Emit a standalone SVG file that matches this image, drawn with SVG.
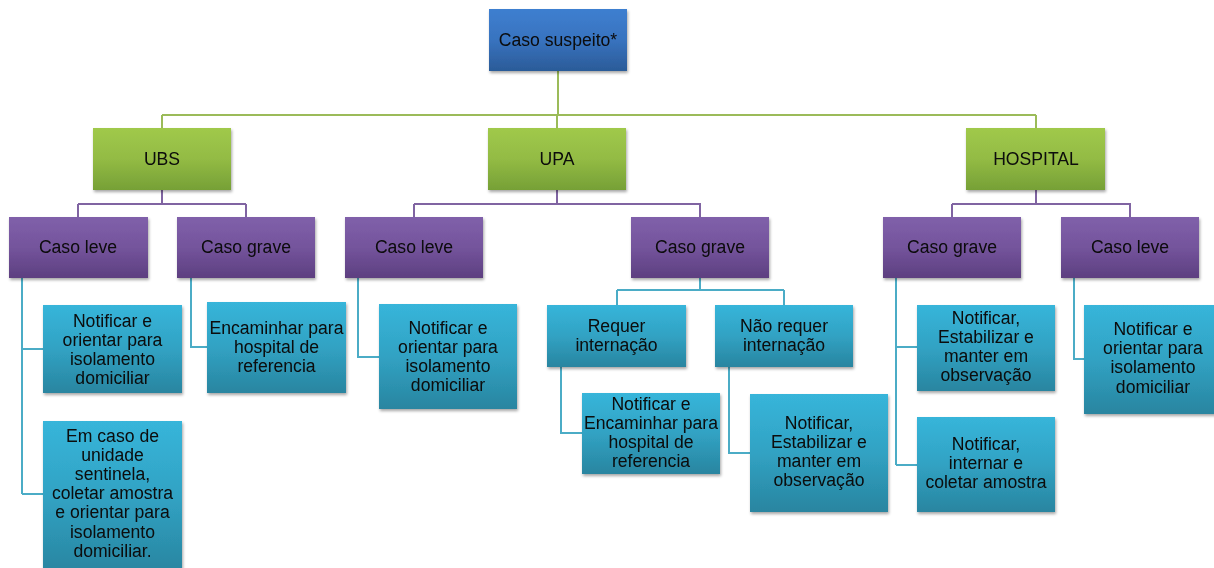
<svg xmlns="http://www.w3.org/2000/svg" width="1214" height="568" viewBox="0 0 1214 568">
<defs>
<linearGradient id="gBlue" x1="0" y1="0" x2="0" y2="1"><stop offset="0" stop-color="#3e7fd0"/><stop offset="0.5" stop-color="#3873bf"/><stop offset="1" stop-color="#2b5b98"/></linearGradient>
<linearGradient id="gGreen" x1="0" y1="0" x2="0" y2="1"><stop offset="0" stop-color="#a0c94b"/><stop offset="0.5" stop-color="#93bb44"/><stop offset="1" stop-color="#76a036"/></linearGradient>
<linearGradient id="gPurple" x1="0" y1="0" x2="0" y2="1"><stop offset="0" stop-color="#8060aa"/><stop offset="0.5" stop-color="#74549c"/><stop offset="1" stop-color="#5d3f80"/></linearGradient>
<linearGradient id="gCyan" x1="0" y1="0" x2="0" y2="1"><stop offset="0" stop-color="#37b5da"/><stop offset="0.5" stop-color="#31a2c3"/><stop offset="1" stop-color="#2985a0"/></linearGradient>
<filter id="sh" x="-10%" y="-10%" width="125%" height="130%"><feDropShadow dx="1" dy="2" stdDeviation="1.5" flood-color="#000" flood-opacity="0.35"/></filter>
</defs>
<style>
text{font-family:"Liberation Sans",Arial,sans-serif;font-size:17.6px;fill:#0a0a0a;text-anchor:middle}
.n{filter:url(#sh)}
.b{fill:url(#gBlue)}
.g{fill:url(#gGreen)}
.p{fill:url(#gPurple)}
.c{fill:url(#gCyan)}
.lg{stroke:#9bbb59;stroke-width:2;fill:none}
.lp{stroke:#8064a2;stroke-width:2;fill:none}
.lc{stroke:#4bacc6;stroke-width:2;fill:none}
</style>
<g id="connectors">
<path class="lg" d="M558,71 V115 M162,115 H1036 M162,115 V128 M557,115 V128 M1036,115 V128"/>
<path class="lp" d="M162,190 V204 M78,204 H246 M78,204 V217 M246,204 V217 M557,190 V204 M414,204 H700 V217 M414,204 V217 M1036,190 V204 M952,204 H1130 V217 M952,204 V217"/>
<path class="lc" d="M22,278 V494 M22,349 H43 M22,494 H43 M191,278 V347 H207 M358,278 V357 H379 M700,278 V290 M617,290 H784 M617,290 V305 M784,290 V305 M561,367 V433 H582 M729,367 V453 H750 M896,278 V465 M896,347 H917 M896,465 H917 M1074,278 V359 H1084"/>
</g>
<g id="caso-suspeito" class="n"><rect class="b" x="489" y="9" width="138" height="62"/><text x="558" y="46">Caso suspeito*</text></g>
<g id="ubs" class="n"><rect class="g" x="93" y="128" width="138" height="62"/><text x="162" y="165">UBS</text></g>
<g id="upa" class="n"><rect class="g" x="488" y="128" width="138" height="62"/><text x="557" y="165">UPA</text></g>
<g id="hospital" class="n"><rect class="g" x="966" y="128" width="139" height="62"/><text x="1036" y="165">HOSPITAL</text></g>
<g id="ubs-leve" class="n"><rect class="p" x="9" y="217" width="139" height="61"/><text x="78" y="253">Caso leve</text></g>
<g id="ubs-grave" class="n"><rect class="p" x="177" y="217" width="138" height="61"/><text x="246" y="253">Caso grave</text></g>
<g id="upa-leve" class="n"><rect class="p" x="345" y="217" width="138" height="61"/><text x="414" y="253">Caso leve</text></g>
<g id="upa-grave" class="n"><rect class="p" x="631" y="217" width="138" height="61"/><text x="700" y="253">Caso grave</text></g>
<g id="hosp-grave" class="n"><rect class="p" x="883" y="217" width="138" height="61"/><text x="952" y="253">Caso grave</text></g>
<g id="hosp-leve" class="n"><rect class="p" x="1061" y="217" width="138" height="61"/><text x="1130" y="253">Caso leve</text></g>
<g id="ubs-leve-1" class="n"><rect class="c" x="43" y="305" width="139" height="88"/><text x="112.5" y="326.5"><tspan x="112.5">Notificar e</tspan><tspan x="112.5" dy="19">orientar para</tspan><tspan x="112.5" dy="19">isolamento</tspan><tspan x="112.5" dy="19">domiciliar</tspan></text></g>
<g id="ubs-leve-2" class="n"><rect class="c" x="43" y="421" width="139" height="152"/><text x="112.5" y="441.5"><tspan x="112.5">Em caso de</tspan><tspan x="112.5" dy="19.2">unidade</tspan><tspan x="112.5" dy="19.2">sentinela,</tspan><tspan x="112.5" dy="19.2">coletar amostra</tspan><tspan x="112.5" dy="19.2">e orientar para</tspan><tspan x="112.5" dy="19.2">isolamento</tspan><tspan x="112.5" dy="19.2">domiciliar.</tspan></text></g>
<g id="ubs-grave-1" class="n"><rect class="c" x="207" y="302" width="139" height="91"/><text x="276.5" y="333.5"><tspan x="276.5">Encaminhar para</tspan><tspan x="276.5" dy="19">hospital de</tspan><tspan x="276.5" dy="19">referencia</tspan></text></g>
<g id="upa-leve-1" class="n"><rect class="c" x="379" y="304" width="138" height="105"/><text x="448" y="334"><tspan x="448">Notificar e</tspan><tspan x="448" dy="19">orientar para</tspan><tspan x="448" dy="19">isolamento</tspan><tspan x="448" dy="19">domiciliar</tspan></text></g>
<g id="upa-requer" class="n"><rect class="c" x="547" y="305" width="139" height="62"/><text x="616.5" y="332"><tspan x="616.5">Requer</tspan><tspan x="616.5" dy="19">internação</tspan></text></g>
<g id="upa-nao-requer" class="n"><rect class="c" x="715" y="305" width="138" height="62"/><text x="784" y="332"><tspan x="784">Não requer</tspan><tspan x="784" dy="19">internação</tspan></text></g>
<g id="upa-requer-1" class="n"><rect class="c" x="582" y="393" width="138" height="81"/><text x="651" y="410"><tspan x="651">Notificar e</tspan><tspan x="651" dy="19">Encaminhar para</tspan><tspan x="651" dy="19">hospital de</tspan><tspan x="651" dy="19">referencia</tspan></text></g>
<g id="upa-nao-requer-1" class="n"><rect class="c" x="750" y="394" width="138" height="118"/><text x="819" y="428.5"><tspan x="819">Notificar,</tspan><tspan x="819" dy="19.3">Estabilizar e</tspan><tspan x="819" dy="19.3">manter em</tspan><tspan x="819" dy="19.3">observação</tspan></text></g>
<g id="hosp-grave-1" class="n"><rect class="c" x="917" y="305" width="138" height="86"/><text x="986" y="323.5"><tspan x="986">Notificar,</tspan><tspan x="986" dy="19.2">Estabilizar e</tspan><tspan x="986" dy="19.2">manter em</tspan><tspan x="986" dy="19.2">observação</tspan></text></g>
<g id="hosp-grave-2" class="n"><rect class="c" x="917" y="417" width="138" height="95"/><text x="986" y="450"><tspan x="986">Notificar,</tspan><tspan x="986" dy="19.2">internar e</tspan><tspan x="986" dy="19.2">coletar amostra</tspan></text></g>
<g id="hosp-leve-1" class="n"><rect class="c" x="1084" y="305" width="138" height="109"/><text x="1153" y="335"><tspan x="1153">Notificar e</tspan><tspan x="1153" dy="19.2">orientar para</tspan><tspan x="1153" dy="19.2">isolamento</tspan><tspan x="1153" dy="19.2">domiciliar</tspan></text></g>
</svg>
